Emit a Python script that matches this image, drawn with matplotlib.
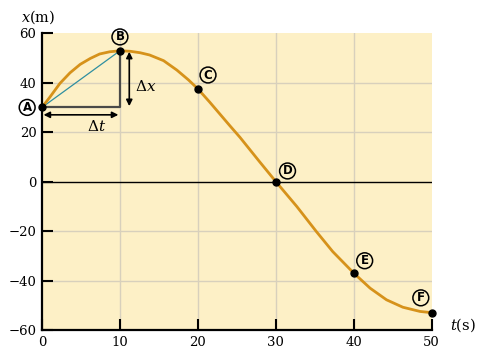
import matplotlib
matplotlib.use('Agg')
import matplotlib.pyplot as plt

plt.rcParams['mathtext.fontset'] = 'dejavuserif'

# Lage x(t), Punkte
t_s = [0, 1, 2.3, 3.6, 4.9, 6.2, 7.4, 8.7, 10, 11.3, 12.6, 13.8, 15.6, 17.3,
       18.8, 20, 21.5, 22.8, 24.1, 25.4, 27.9, 30, 32.7, 35.2, 37.3, 40,
       42.1, 44.2, 46.3, 48.5, 50]
x_m = [30, 34.1, 39.7, 44, 47.4, 49.8, 51.6, 52.5, 52.9, 52.7, 52.1, 51.2, 48.9, 45.1,
       41.1, 37.5, 32.2, 27.4, 22.6, 17.9, 8.1, 0, -10.1, -20.2, -28.3, -37,
       -43.1, -47.8, -50.8, -52.5, -53]

# markierte Punkte A..F
punkt_namen = ['A', 'B', 'C', 'D', 'E', 'F']
punkt_t = [0, 10, 20, 30, 40, 50]
punkt_x = [30, 52.9, 37.5, 0, -37, -53]
# Versatz der Kreisbuchstaben in Datenkoordinaten
label_dt = [-1.9, 0, 1.3, 1.5, 1.4, -1.4]
label_dx = [0, 5.6, 5.6, 4.3, 5, 6]

x_ticks = [0, 10, 20, 30, 40, 50]
y_ticks = [-60, -40, -20, 0, 20, 40, 60]
y_ticklabels = ['\u221260', '\u221240', '\u221220', '0', '20', '40', '60']

HINTERGRUND = '#fdf0c6'
KURVE = '#d6921a'
GITTER = '#d8d0bc'
SERIF = 'DejaVu Serif'


def main():
    fig = plt.figure(figsize=(4.87, 3.61), dpi=100)
    ax = fig.add_axes([0.0862, 0.0859, 0.8003, 0.8221])
    ax.set_xlim(0, 50)
    ax.set_ylim(-60, 60)
    ax.set_facecolor(HINTERGRUND)

    for s in ('top', 'right'):
        ax.spines[s].set_visible(False)
    for s in ('left', 'bottom'):
        ax.spines[s].set_linewidth(1.6)

    for tv in x_ticks[1:-1]:
        ax.axvline(tv, color=GITTER, lw=1, zorder=1)
    for yv in [-40, -20, 20, 40]:
        ax.axhline(yv, color=GITTER, lw=1, zorder=1)
    ax.axhline(0, color='black', lw=1, zorder=2)

    ax.set_xticks(x_ticks)
    ax.set_yticks(y_ticks)
    ax.set_yticklabels(y_ticklabels)
    ax.tick_params(direction='in', length=8, width=1.5, labelsize=9.5, pad=4)
    for lab in ax.get_xticklabels() + ax.get_yticklabels():
        lab.set_fontfamily(SERIF)

    # Dreieck Delta t / Delta x
    ax.plot([punkt_t[0], punkt_t[1]], [punkt_x[0], punkt_x[1]], color='#2f8fa0', lw=0.9, zorder=3)
    ax.plot([punkt_t[0], punkt_t[1], punkt_t[1]], [punkt_x[0], punkt_x[0], punkt_x[1]],
            color='#4a4a48', lw=1.6, zorder=3)

    ax.plot(t_s, x_m, color=KURVE, lw=2, zorder=4, solid_joinstyle='round')
    ax.plot(punkt_t, punkt_x, 'o', color='black', ms=5, zorder=6, clip_on=False)

    pfeil = dict(arrowstyle='<|-|>', color='black', lw=1.2, mutation_scale=9, shrinkA=0, shrinkB=0)
    ax.annotate('', xy=(11.2, 52.5), xytext=(11.2, 30.5), arrowprops=pfeil, zorder=5)
    ax.annotate('', xy=(0.2, 27), xytext=(9.8, 27), arrowprops=pfeil, zorder=5)
    ax.text(11.9, 38.3, r'$\Delta x$', fontsize=11, ha='left', va='center')
    ax.text(7.0, 22.1, r'$\Delta t$', fontsize=11, ha='center', va='center')

    for name, tv, xv, dt, dx in zip(punkt_namen, punkt_t, punkt_x, label_dt, label_dx):
        ax.text(tv + dt, xv + dx, name, fontsize=8.5, fontweight='bold', ha='center', va='center',
                bbox=dict(boxstyle='circle,pad=0.12', fc='none', ec='black', lw=1.1),
                zorder=7, clip_on=False)

    fig.text(38 / 487, 1 - 17 / 361, r'$x$(m)', fontsize=10.5, family=SERIF, ha='center', va='center')
    fig.text(463 / 487, 1 - 325 / 361, r'$t$(s)', fontsize=10.5, family=SERIF, ha='center', va='center')

    fig.savefig('out.png', dpi=100)


if __name__ == '__main__':
    main()
